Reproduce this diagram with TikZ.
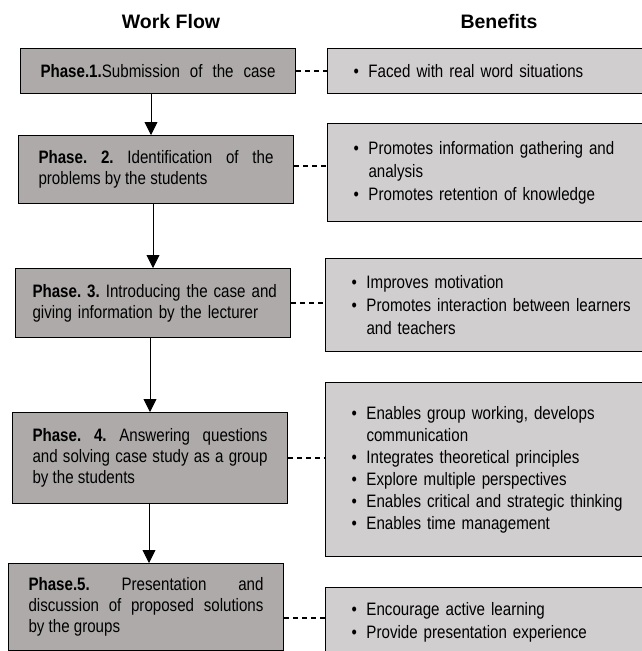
\documentclass[tikz,border=0pt]{standalone}
\usepackage{fontspec}
\setmainfont{Liberation Sans}
\newfontfamily\narrowfont{Liberation Sans}[FakeStretch=0.84]
\usepackage{xcolor}
\usepackage{tikz}
\usetikzlibrary{arrows.meta,positioning,calc}
\definecolor{phasegray}{RGB}{174,170,170}
\definecolor{benefitgray}{RGB}{208,206,206}
\newcommand{\bitem}[1]{\hangindent=15pt\hangafter=1\noindent\makebox[15pt][l]{\textbullet}#1\par}
\hyphenpenalty=10000
\frenchspacing

\begin{document}
\begin{tikzpicture}[x=1pt, y=-1pt, >={Triangle[width=13pt,length=13pt]}]
\tikzstyle{ttl}=[font=\fontsize{19.5}{22}\selectfont\bfseries, inner sep=0pt]
\tikzstyle{phase}=[draw=black, line width=1pt, fill=phasegray, anchor=north west, inner xsep=20pt, inner ysep=2pt, text width=235pt, align=justify, font=\narrowfont\fontsize{18}{21}\selectfont]
\tikzstyle{benefit}=[draw=black, line width=1pt, fill=benefitgray, anchor=north west, inner xsep=26pt, inner ysep=2pt, text width=290pt, align=left, font=\narrowfont\fontsize{18}{23}\selectfont]
\tikzstyle{flow}=[->, line width=0.9pt]
\tikzstyle{link}=[line width=1.4pt, dash pattern=on 5pt off 4pt]
\useasboundingbox (0,0) rectangle (641,651);
% titles
\node[ttl] (wf) at (171,22) {Work Flow};
\node[ttl] (bf) at (499,22) {Benefits};
% work flow
\node[phase, minimum height=45pt] (p1) at (20,48) {\textbf{Phase.1.}Submission\hfill of\hfill the\hfill case};
\node[phase, minimum height=68pt] (p2) at (18,135) {\textbf{Phase. 2.} Identification of the\linebreak problems by the students};
\node[phase, align=left, inner xsep=17pt, text width=241pt, minimum height=69pt] (p3) at (15,268) {\mbox{\textbf{Phase. 3.} Introducing the case and}\\ \mbox{giving information by the lecturer}};
\node[phase, minimum height=91pt] (p4) at (12,412) {\textbf{Phase. 4.} Answering questions\linebreak and solving case study as a group\linebreak by the students};
\node[phase, minimum height=87pt] (p5) at (8,563) {\textbf{Phase.5.} Presentation and\linebreak discussion of proposed solutions\linebreak by the groups};
% benefits
\node[benefit, minimum height=45pt] (b1) at (327,48) {\bitem{Faced with real word situations}};
\node[benefit, minimum height=98pt] (b2) at (327,123) {\bitem{Promotes information gathering and\newline analysis}\bitem{Promotes retention of knowledge}};
\node[benefit, minimum height=93pt] (b3) at (325,258) {\bitem{Improves motivation}\bitem{Promotes interaction between learners\newline and teachers}};
\node[benefit, font=\narrowfont\fontsize{18}{22}\selectfont, minimum height=174pt] (b4) at (325,382) {\bitem{Enables group working, develops\newline communication}\bitem{Integrates theoretical principles}\bitem{Explore multiple perspectives}\bitem{Enables critical and strategic thinking}\bitem{Enables time management}};
\node[benefit, minimum height=70pt] (b5) at (325,587) {\bitem{Encourage active learning}\bitem{Provide presentation experience}};
% arrows
\draw[flow] ([xshift=-7pt]p1.south) -- ([xshift=-7pt]p1.south |- p2.north);
\draw[flow] ([xshift=-3pt]p2.south) -- ([xshift=-3pt]p2.south |- p3.north);
\draw[flow] ([xshift=-3pt]p3.south) -- ([xshift=-3pt]p3.south |- p4.north);
\draw[flow] ([xshift=-1pt]p4.south) -- ([xshift=-1pt]p4.south |- p5.north);
% dashed links
\draw[link] (p1.east) -- (p1.east -| b1.west);
\draw[link] ([yshift=3.5pt]p2.east) -- ([yshift=3.5pt]p2.east -| b2.west);
\draw[link] (p3.east) -- (p3.east -| b3.west);
\draw[link] (p4.east) -- (p4.east -| b4.west);
\draw[link] ([yshift=-11pt]p5.east) -- ([yshift=-11pt]p5.east -| b5.west);
\end{tikzpicture}
\end{document}
